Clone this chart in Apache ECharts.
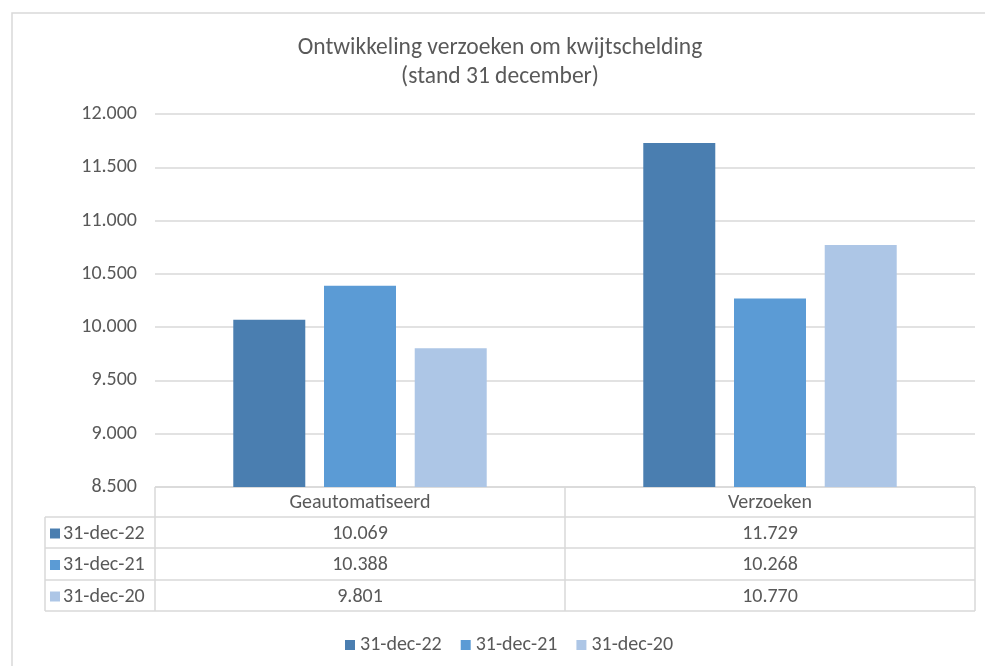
<!DOCTYPE html>
<html><head><meta charset="utf-8">
<script src="https://cdn.jsdelivr.net/npm/echarts@6/dist/echarts.min.js"></script>
<style>html,body{margin:0;padding:0;background:#fff}#c{width:985px;height:666px}</style>
</head><body><div id="c"></div>
<script>
const categories = ['Geautomatiseerd', 'Verzoeken'];
const seriesNames = ['31-dec-22', '31-dec-21', '31-dec-20'];
const values22 = [10069, 11729];
const values21 = [10388, 10268];
const values20 = [9801, 10770];
const yTicks = [8500, 9000, 9500, 10000, 10500, 11000, 11500, 12000];
const colors = ['#4a7eb0', '#5b9bd5', '#adc6e6'];
const seriesData = [values22, values21, values20];

const FONT = "Carlito, 'Liberation Sans Narrow', 'Noto Sans', sans-serif";
const TXT = '#595959';
const LINE = '#d9d9d9';
const fmt = v => v.toString().replace(/\B(?=(\d{3})+(?!\d))/g, '.');

const chart = echarts.init(document.getElementById('c'));
const G = {left: 155, right: 10, top: 114, bottom: 179};
const W = 985, H = 666;
const x0 = G.left, x1 = W - G.right, yAxis = H - G.bottom;
const rowH = [30, 31, 32, 31];
const rowY = [yAxis];
rowH.forEach(h => rowY.push(rowY[rowY.length - 1] + h));
const tableLeft = 45;
const colW = (x1 - x0) / categories.length;
const FS = 20;

const graphics = [];
graphics.push({type: 'polyline', shape: {points: [[12, H + 5], [12, 13], [W + 5, 13]]}, style: {stroke: LINE, lineWidth: 1.5, fill: null}, silent: true});
graphics.push({type: 'line', shape: {x1: x0, y1: rowY[0], x2: x1, y2: rowY[0]}, style: {stroke: LINE, lineWidth: 1.5}});
for (let i = 1; i < rowY.length; i++) {
  graphics.push({type: 'line', shape: {x1: tableLeft, y1: rowY[i], x2: x1, y2: rowY[i]}, style: {stroke: LINE, lineWidth: 1.5}});
}
graphics.push({type: 'line', shape: {x1: tableLeft, y1: rowY[1], x2: tableLeft, y2: rowY[4]}, style: {stroke: LINE, lineWidth: 1.5}});
for (let c = 0; c <= categories.length; c++) {
  const xx = x0 + c * colW;
  graphics.push({type: 'line', shape: {x1: xx, y1: rowY[0], x2: xx, y2: rowY[4]}, style: {stroke: LINE, lineWidth: 1.5}});
}
categories.forEach((cat, c) => {
  graphics.push({type: 'text', x: x0 + (c + 0.5) * colW, y: (rowY[0] + rowY[1]) / 2 + 1,
    style: {text: cat, font: FS + 'px ' + FONT, fill: TXT, align: 'center', verticalAlign: 'middle'}});
});
seriesNames.forEach((name, r) => {
  const cy = (rowY[r + 1] + rowY[r + 2]) / 2 + 1;
  graphics.push({type: 'rect', shape: {x: 50, y: cy - 5, width: 10, height: 10}, style: {fill: colors[r]}});
  graphics.push({type: 'text', x: 63, y: cy, style: {text: name, font: FS + 'px ' + FONT, fill: TXT, align: 'left', verticalAlign: 'middle'}});
  seriesData[r].forEach((v, c) => {
    graphics.push({type: 'text', x: x0 + (c + 0.5) * colW, y: cy,
      style: {text: fmt(v), font: FS + 'px ' + FONT, fill: TXT, align: 'center', verticalAlign: 'middle'}});
  });
});

chart.setOption({
  animation: false,
  title: {
    text: 'Ontwikkeling verzoeken om kwijtschelding\n(stand 31 december)',
    left: 495, textAlign: 'center', top: 29, padding: 5,
    textStyle: {fontFamily: FONT, fontSize: 23.5, fontWeight: 'normal', color: TXT, lineHeight: 29}
  },
  legend: {
    data: seriesNames, left: 340, top: 630, icon: 'rect', itemWidth: 10, itemHeight: 10, itemGap: 19,
    textStyle: {fontFamily: FONT, fontSize: FS, color: TXT}
  },
  grid: {left: G.left, right: G.right, top: G.top, bottom: G.bottom},
  xAxis: {
    type: 'category', data: categories,
    axisLine: {show: false}, axisTick: {show: false}, axisLabel: {show: false}
  },
  yAxis: {
    type: 'value', min: 8500, max: 12000, interval: 500,
    axisLine: {show: false}, axisTick: {show: false},
    splitLine: {lineStyle: {color: LINE, width: 1.5}},
    axisLabel: {fontFamily: FONT, fontSize: FS, color: TXT, margin: 18, formatter: v => fmt(v)}
  },
  series: seriesNames.map((n, i) => ({
    name: n, type: 'bar', data: seriesData[i], barWidth: 72, barGap: '26%',
    itemStyle: {color: colors[i]}
  })),
  graphic: graphics
});
</script></body></html>
